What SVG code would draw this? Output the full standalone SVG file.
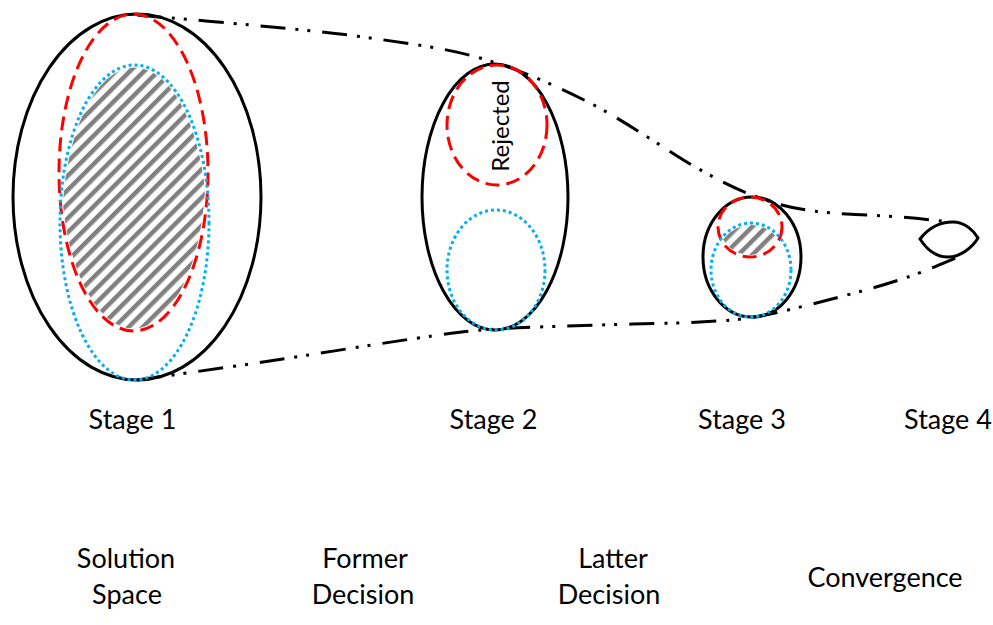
<svg xmlns="http://www.w3.org/2000/svg" width="993" height="625" viewBox="0 0 993 625">
<style>
.outer{fill:none;stroke:#000;stroke-width:3}
.red{fill:none;stroke:#FF0000;stroke-width:3;stroke-dasharray:14 7}
.blue{fill:none;stroke:#00B0F0;stroke-width:3;stroke-dasharray:3 3}
.env{fill:none;stroke:#000;stroke-width:3;stroke-dasharray:25 10 3 9 3 12}
.lbl{font-family:Lato,"Open Sans","Liberation Sans",sans-serif;font-size:27px;fill:#000;text-anchor:middle}
.rej{font-family:Lato,"Open Sans","Liberation Sans",sans-serif;font-size:24px;fill:#000;text-anchor:middle}
</style>
<defs>
<pattern id="hatch" patternUnits="userSpaceOnUse" width="10" height="10" patternTransform="rotate(45)">
<rect x="0" y="0" width="4.5" height="10" fill="#808080"/>
</pattern>
<clipPath id="clip1"><ellipse cx="133.5" cy="172.5" rx="72" ry="156"/></clipPath>
<clipPath id="clip3"><ellipse cx="750" cy="227" rx="30" ry="28"/></clipPath>
</defs>
<rect width="993" height="625" fill="#fff"/>
<g id="connectors">
<path class="env" d="M137,15 C155.8,16.7 212.3,21.3 250,25 C287.7,28.7 324.7,31.5 363,37 C401.3,42.5 442.5,47.2 480,58 C517.5,68.8 551.8,83.7 588,102 C624.2,120.3 670.8,153 697,168 C725.2,183.8 737.7,189.8 757,197 C776.3,204.2 789.2,207.7 813,211 C836.8,214.3 877.2,215.2 900,217 C922.8,218.8 941.7,221.2 950,222"/>
<path class="env" d="M137,380 C158,377 215,369.2 263,362 C311,354.8 386,342.5 425,337 C464,331.5 467.8,331 497,329 C526.2,327 566.2,326.2 600,325 C633.8,323.8 673.3,323.5 700,322 C726.7,320.5 735.5,320.5 760,316 C784.5,311.5 822.3,301.5 847,295 C871.7,288.5 889.5,283.3 908,277 C926.5,270.7 949.7,260.3 958,257"/>
</g>
<g id="stage1">
<ellipse cx="134.5" cy="222.5" rx="72" ry="155" fill="url(#hatch)" clip-path="url(#clip1)"/>
<ellipse class="outer" cx="137" cy="197" rx="124" ry="183"/>
<ellipse class="red" cx="133.5" cy="172.5" rx="74.5" ry="158.5"/>
<ellipse class="blue" cx="134.5" cy="222.5" rx="74.5" ry="157.5"/>
</g>
<g id="stage2">
<ellipse class="outer" cx="495" cy="197" rx="73" ry="133"/>
<ellipse class="red" cx="497" cy="125" rx="50" ry="60"/>
<ellipse class="blue" cx="496" cy="270" rx="49" ry="60"/>
<text class="rej" transform="translate(509,126) rotate(-90)">Rejected</text>
</g>
<g id="stage3">
<ellipse cx="751" cy="270" rx="38" ry="45" fill="url(#hatch)" clip-path="url(#clip3)"/>
<ellipse class="outer" cx="752" cy="257" rx="49" ry="60"/>
<ellipse class="red" cx="750" cy="227" rx="32" ry="30"/>
<ellipse class="blue" cx="751" cy="270" rx="40" ry="47"/>
</g>
<g id="stage4">
<path class="outer" d="M920,239 C930,226 943,222 953,222 C965,222 974,231 978,238 C972,248 960,257 948,257 C937,257 927,250 920,239 Z"/>
</g>
<g id="labels">
<text class="lbl" x="132.5" y="429">Stage 1</text>
<text class="lbl" x="493.5" y="429">Stage 2</text>
<text class="lbl" x="742" y="429">Stage 3</text>
<text class="lbl" x="948" y="429">Stage 4</text>
<text class="lbl" x="126" y="568">Solution</text>
<text class="lbl" x="127" y="604">Space</text>
<text class="lbl" x="365" y="568">Former</text>
<text class="lbl" x="363" y="604">Decision</text>
<text class="lbl" x="613" y="568">Latter</text>
<text class="lbl" x="609" y="604">Decision</text>
<text class="lbl" x="885" y="587">Convergence</text>
</g>
</svg>
